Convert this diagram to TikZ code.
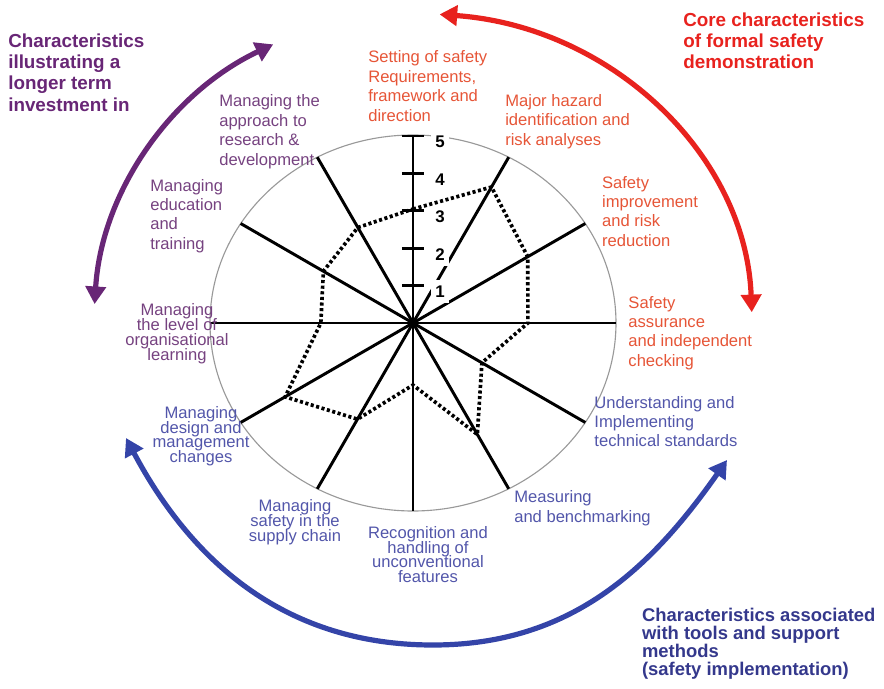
\documentclass[tikz,border=0pt]{standalone}
\usepackage{fontspec}
\setmainfont{Liberation Sans}
\usetikzlibrary{arrows.meta}
\definecolor{corered}{RGB}{232,34,30}
\definecolor{corelbl}{RGB}{230,85,55}
\definecolor{longpurple}{RGB}{104,38,118}
\definecolor{longlbl}{RGB}{118,66,128}
\definecolor{toolblue}{RGB}{52,68,168}
\definecolor{tooltitle}{RGB}{52,56,140}
\definecolor{toollbl}{RGB}{82,86,170}
\def\spoke(#1){\draw[line width=2.1pt] (0,0) -- (#1:{1/sqrt((cos(#1)/5.075)^2+(sin(#1)/4.7)^2)});}
\def\score(#1:#2:#3){\coordinate (#1) at (#2:{#3/5/sqrt((cos(#2)/5.075)^2+(sin(#2)/4.7)^2)});}
\def\tightfont{\fontsize{11.8}{10.6}\selectfont\lineskiplimit=-20pt\relax}
\def\toolsfont{\fontsize{13.1}{12.8}\selectfont\bfseries\lineskiplimit=-20pt\relax}
\tikzset{
	lbl/.style={inner sep=0pt, anchor=north west, align=left, font=\fontsize{11.8}{13.8}\selectfont},
	tightlbl/.style={inner sep=0pt, anchor=north, align=center, font=\tightfont},
	ttl/.style={inner sep=0pt, anchor=north west, align=left, font=\fontsize{13.4}{15.2}\selectfont\bfseries},
	num/.style={fill=white, inner xsep=2.8pt, inner ysep=4pt, font=\fontsize{12}{13}\selectfont\bfseries},
	band/.style={line width=3.7pt, {Triangle[length=0.44cm,width=0.5cm]}-{Triangle[length=0.44cm,width=0.5cm]}}
}

\begin{document}
\begin{tikzpicture}
				\useasboundingbox (-10.325,-9.15) rectangle (11.775,8.075);
				
				\draw[line width=0.8pt, black!40] (0,0) ellipse (5.075 and 4.7);
				
				\spoke(0);
				\spoke(30);
				\spoke(60);
				\spoke(120);
				\spoke(150);
				\spoke(180);
				\spoke(210);
				\spoke(240);
				\spoke(270);
				\spoke(300);
				\spoke(330);
				
				\draw[line width=2.1pt] (0,0) -- (0,4.675);
				\draw[line width=2.1pt] (-0.28,0.935) -- (0.28,0.935);
				\draw[line width=2.1pt] (-0.28,1.87) -- (0.28,1.87);
				\draw[line width=2.1pt] (-0.28,2.805) -- (0.28,2.805);
				\draw[line width=2.1pt] (-0.28,3.74) -- (0.28,3.74);
				\draw[line width=2.1pt] (-0.28,4.675) -- (0.28,4.675);
				
				\node[num] (n1) at (0.675,0.785) {1};
				\node[num] (n2) at (0.675,1.72) {2};
				\node[num] (n3) at (0.675,2.655) {3};
				\node[num] (n4) at (0.675,3.59) {4};
				\node[num] (n5) at (0.675,4.525) {5};
				
				\score(s1:90:3.03);
				\score(s2:60:4.1);
				\score(s3:30:3.33);
				\score(s4:0:2.83);
				\score(s5:-30:2.0);
				\score(s6:-60:3.36);
				\score(s7:-90:1.65);
				\score(s8:-120:2.9);
				\score(s9:-150:3.71);
				\score(s10:180:2.27);
				\score(s11:150:2.6);
				\score(s12:120:2.88);
				\draw[line width=2.6pt, dash pattern=on 2.2pt off 1.8pt] (s1) -- (s2) -- (s3) -- (s4) -- (s5) -- (s6) -- (s7) -- (s8) -- (s9) -- (s10) -- (s11) -- (s12) -- cycle;
				
				\node[lbl, corelbl] (setting) at (-1.125,6.81) {Setting of safety\\Requirements,\\framework and\\direction};
				\node[lbl, corelbl] (hazard) at (2.3,5.725) {Major hazard\\identification and\\risk analyses};
				\node[lbl, corelbl] (improve) at (4.72,3.68) {Safety\\improvement\\and risk\\reduction};
				\node[lbl, corelbl] (assure) at (5.38,0.68) {Safety\\assurance\\and independent\\checking};
				\node[lbl, toollbl] (standards) at (4.53,-1.82) {Understanding and\\Implementing\\technical standards};
				\node[lbl, toollbl] (measure) at (2.525,-4.19) {Measuring\\and benchmarking};
				\node[tightlbl, toollbl] (unconv) at (0.375,-5.07) {Recognition and\\handling of\\unconventional\\features};
				\node[tightlbl, toollbl] (supply) at (-2.95,-4.4) {Managing\\safety in the\\supply chain};
				\node[tightlbl, toollbl] (design) at (-5.3,-2.07) {Managing\\design and\\management\\changes};
				\node[tightlbl, longlbl] (learning) at (-5.9,0.49) {Managing\\the level of\\organisational\\learning};
				\node[lbl, longlbl, font=\fontsize{11.8}{13.7}\selectfont] (training) at (-6.575,3.6) {Managing\\education\\and\\training};
				\node[lbl, longlbl] (research) at (-4.85,5.71) {Managing the\\approach to\\research \&\\development};
				
				\node[ttl, longpurple] (longterm) at (-10.125,7.245) {Characteristics\\illustrating a\\longer term\\investment in};
				\node[ttl, corered] (core) at (6.75,7.77) {Core characteristics\\of formal safety\\demonstration};
				\node[ttl, tooltitle, font=\toolsfont] (tools) at (5.72,-7.13) {Characteristics associated\\with tools and support\\methods\\(safety implementation)};
				
				\draw[band, longpurple] (116:7.975 and 7.75) arc[start angle=116, end angle=176.5, x radius=7.975, y radius=7.75];
				\draw[band, corered] (85.5:8.475 and 7.74) arc[start angle=85.5, end angle=2, x radius=8.475, y radius=7.74];
				\draw[band, toolblue] (-7.175,-2.875) to[out=-62,in=180] (0.5,-8.05) to[out=0,in=235] (7.85,-3.425);
			\end{tikzpicture}
\end{document}
